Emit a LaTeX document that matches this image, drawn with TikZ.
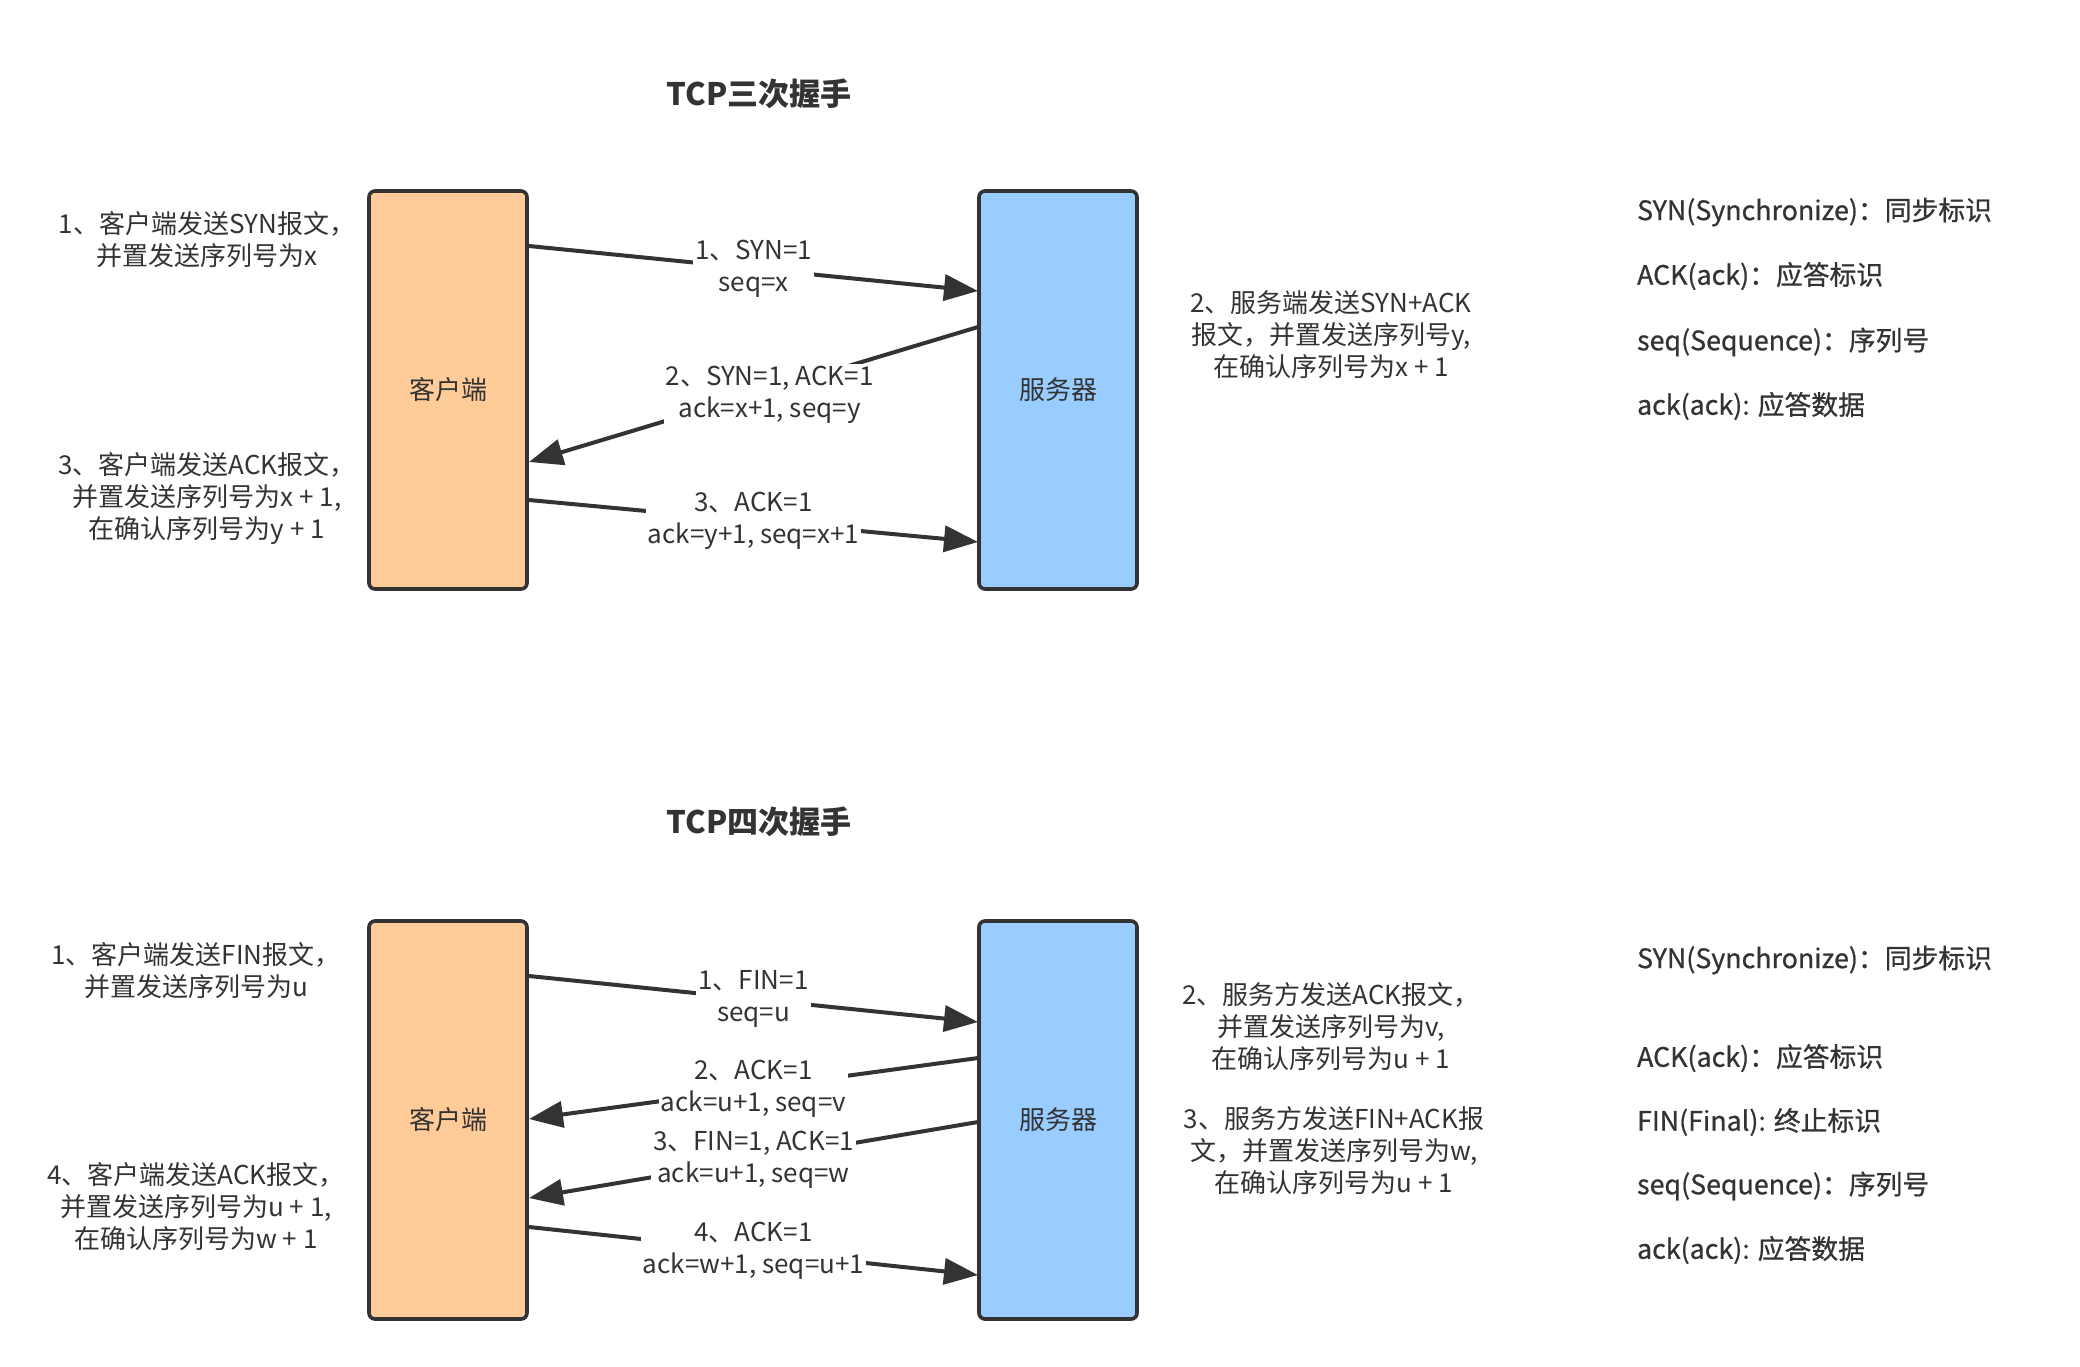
\documentclass[tikz,border=0pt]{standalone}
\usepackage{fontspec}
\setmainfont{Noto Sans CJK SC}
\newfontfamily\keyfont[FakeBold=0.7]{Noto Sans CJK SC}
\usetikzlibrary{arrows.meta}
\definecolor{txt}{HTML}{333333}
\definecolor{cliclr}{HTML}{FFCC99}
\definecolor{srvclr}{HTML}{99CCFF}
\tikzset{
  box/.style={draw=txt, line width=1.8pt, rounded corners=3pt, minimum width=79pt, minimum height=199pt, text=txt, font=\fontsize{13}{16}\selectfont},
  client/.style={box, fill=cliclr},
  server/.style={box, fill=srvclr},
  msg/.style={line width=2pt, draw=txt, -{Triangle[length=17pt,width=13pt]}},
  lbl/.style={fill=white, inner sep=1pt, align=center, text=txt, font=\fontsize{13}{16}\selectfont},
  note/.style={align=center, text=txt, font=\fontsize{13}{16}\selectfont},
  key/.style={anchor=west, text=txt, font=\keyfont\fontsize{13.4}{16}\selectfont},
  ttl/.style={text=txt, font=\bfseries\fontsize{15.5}{18}\selectfont}
}
\begin{document}
\begin{tikzpicture}[x=0.5pt, y=-0.5pt]
  \useasboundingbox (0,0) rectangle (2080,1366);

  % three-way handshake
  \node[ttl] (t1) at (759, 94) {TCP三次握手};
  \node[client] (c) at (448, 390) {客户端};
  \node[server] (s) at (1058, 390) {服务器};
  \coordinate (c1) at (529, 246);
  \coordinate (s1) at (978, 291);
  \coordinate (s2) at (978, 327);
  \coordinate (c2) at (529, 462);
  \coordinate (c3) at (529, 500);
  \coordinate (s3) at (978, 542);
  \draw [msg] (c1) to node[lbl] {1、SYN=1\\seq=x} (s1);
  \draw [msg] (s2) to node[lbl, xshift=8pt] {2、SYN=1, ACK=1\\ack=x+1, seq=y} (c2);
  \draw [msg] (c3) to node[lbl] {3、ACK=1\\ack=y+1, seq=x+1} (s3);
  \node[note] (n1) at (207, 240) {1、客户端发送SYN报文，\\并置发送序列号为x};
  \node[note] (n3) at (207, 498) {3、客户端发送ACK报文，\\并置发送序列号为x + 1,\\在确认序列号为y + 1};
  \node[note] (n2) at (1331, 335) {2、服务端发送SYN+ACK\\报文，并置发送序列号y,\\在确认序列号为x + 1};
  \node[key] (k1) at (1630, 212) {SYN(Synchronize)：同步标识};
  \node[key] (k2) at (1630, 276) {ACK(ack)：应答标识};
  \node[key] (k3) at (1630, 342) {seq(Sequence)：序列号};
  \node[key] (k4) at (1630, 406) {ack(ack): 应答数据};

  % four-way handshake
  \node[ttl] (t2) at (759, 822) {TCP四次握手};
  \node[client] (cc) at (448, 1120) {客户端};
  \node[server] (ss) at (1058, 1120) {服务器};
  \coordinate (cc1) at (529, 976);
  \coordinate (ss1) at (978, 1022);
  \coordinate (ss2) at (978, 1058);
  \coordinate (cc2) at (529, 1119);
  \coordinate (ss3) at (978, 1122);
  \coordinate (cc3) at (529, 1198);
  \coordinate (cc4) at (529, 1227);
  \coordinate (ss4) at (978, 1275);
  \draw [msg] (cc1) to node[lbl] {1、FIN=1\\seq=u} (ss1);
  \draw [msg] (ss2) to node[lbl] {2、ACK=1\\ack=u+1, seq=v} (cc2);
  \draw [msg] (ss3) to node[lbl] {3、FIN=1, ACK=1\\ack=u+1, seq=w} (cc3);
  \draw [msg] (cc4) to node[lbl] {4、ACK=1\\ack=w+1, seq=u+1} (ss4);
  \node[note] (m1) at (196, 971) {1、客户端发送FIN报文，\\并置发送序列号为u};
  \node[note] (m4) at (196, 1207) {4、客户端发送ACK报文，\\并置发送序列号为u + 1,\\在确认序列号为w + 1};
  \node[note] (m2) at (1331, 1027) {2、服务方发送ACK报文，\\并置发送序列号为v,\\在确认序列号为u + 1};
  \node[note] (m3) at (1334, 1151) {3、服务方发送FIN+ACK报\\文，并置发送序列号为w,\\在确认序列号为u + 1};
  \node[key] (q1) at (1630, 960) {SYN(Synchronize)：同步标识};
  \node[key] (q2) at (1630, 1058) {ACK(ack)：应答标识};
  \node[key] (q3) at (1630, 1122) {FIN(Final): 终止标识};
  \node[key] (q4) at (1630, 1186) {seq(Sequence)：序列号};
  \node[key] (q5) at (1630, 1250) {ack(ack): 应答数据};
\end{tikzpicture}
\end{document}
